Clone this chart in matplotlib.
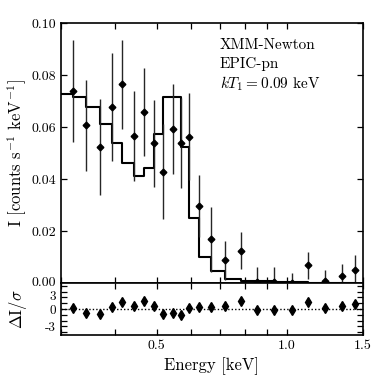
import matplotlib
matplotlib.use("Agg")
import matplotlib.pyplot as plt
import matplotlib.ticker as mticker
import matplotlib.transforms as mtransforms

plt.rcParams['font.family'] = 'serif'
plt.rcParams['font.serif'] = ['cmr10', 'DejaVu Serif']
plt.rcParams['mathtext.fontset'] = 'cm'
plt.rcParams['axes.unicode_minus'] = False
plt.rcParams['axes.formatter.use_mathtext'] = True

# ---- data ----
energy = [0.320, 0.343, 0.370, 0.393, 0.416, 0.442, 0.467, 0.493, 0.518, 0.544,
          0.569, 0.595, 0.627, 0.666, 0.720, 0.781, 0.854, 0.935, 1.025, 1.118,
          1.224, 1.342, 1.436]
intensity = [0.0738, 0.0606, 0.0523, 0.0677, 0.0764, 0.0567, 0.0657, 0.0537, 0.0428, 0.0591,
             0.0537, 0.0563, 0.0296, 0.0168, 0.0088, 0.0124, 0.0005, 0.0005, 0.0000, 0.0069,
             0.0009, 0.0027, 0.0050]
intensity_err = [0.0196, 0.0175, 0.0185, 0.0207, 0.0170, 0.0173, 0.0170, 0.0167, 0.0183, 0.0173,
                 0.0173, 0.0167, 0.0120, 0.0125, 0.0075, 0.0071, 0.0055, 0.0058, 0.0040, 0.0052,
                 0.0041, 0.0045, 0.0058]
model_energy = [0.297] + energy
model_intensity = [0.0726, 0.0726, 0.0717, 0.0676, 0.0612, 0.0540, 0.0460, 0.0413, 0.0444, 0.0573,
                   0.0717, 0.0717, 0.0524, 0.0249, 0.0101, 0.0046, 0.0014, 0.0008, 0.0006, 0.0003,
                   0.0002, 0.0001, 0.0001, 0.0001]
residual = [0.1, -0.66, -0.9, 0.3, 1.2, 0.6, 1.32, 0.48, -0.84, -0.72,
            -0.96, 0.24, 0.36, 0.36, 0.48, 1.44, -0.18, -0.18, -0.24, 1.2,
            0.24, 0.6, 0.78]

main_yticks = [0.00, 0.02, 0.04, 0.06, 0.08, 0.10]
main_yticklabels = ["0.00", "0.02", "0.04", "0.06", "0.08", "0.10"]
res_yticks = [-3, 0, 3]
res_yticklabels = ["-3", "0", "3"]
xticks = [0.5, 1.0, 1.5]
xticklabels = ["0.5", "1.0", "1.5"]
info_lines = ["XMM-Newton", "EPIC-pn", r"$kT_1 = 0.09$ keV"]

W = 382
fig = plt.figure(figsize=(3.82, 3.82), dpi=100)
ax = fig.add_axes([61 / W, (W - 283) / W, 302 / W, 260 / W])
axr = fig.add_axes([61 / W, (W - 335) / W, 302 / W, 52 / W], sharex=ax)

# main panel
ax.step(model_energy, model_intensity, where='pre', color='black', lw=1.5, zorder=3)
ax.errorbar(energy, intensity, yerr=intensity_err, fmt='D', color='black',
            ms=3.4, ecolor='0.15', elinewidth=1.0, capsize=0, zorder=4)

ax.set_xscale('log')
ax.set_xlim(0.3, 1.5)
ax.set_ylim(0.0, 0.10)
ax.set_yticks(main_yticks)
ax.set_yticklabels(main_yticklabels)
ax.set_ylabel(r"I [counts s$^{-1}$ keV$^{-1}$]", fontsize=12)

for i, t in enumerate(info_lines):
    ax.text(0.526, 0.900 - i * 0.075, t, transform=ax.transAxes,
            fontsize=11, ha='left', va='baseline')

# residual panel
axr.axhline(0, color='black', lw=1.0, ls=(0, (1, 1.5)), zorder=2)
axr.plot(energy, residual, 'd', color='black', ms=5, zorder=3)
axr.set_ylim(-4.5, 4.5)
axr.set_yticks(res_yticks)
axr.set_yticklabels(res_yticklabels)
axr.yaxis.set_minor_locator(mticker.MultipleLocator(1))
axr.set_ylabel(r"$\Delta \mathrm{I}/\sigma$", fontsize=12)
axr.set_xlabel("Energy [keV]", fontsize=12)

for a in (ax, axr):
    a.xaxis.set_major_locator(mticker.FixedLocator(xticks))
    a.xaxis.set_minor_locator(mticker.LogLocator(base=10, subs=range(2, 10)))
    a.xaxis.set_minor_formatter(mticker.NullFormatter())
    a.tick_params(which='both', direction='in', top=True, right=True,
                  length=4.5, width=0.9, labelsize=10)
    for s in a.spines.values():
        s.set_linewidth(1.2)
axr.tick_params(axis='y', labelsize=9.5)

axr.xaxis.set_major_formatter(mticker.FixedFormatter(xticklabels))
plt.setp(ax.get_xticklabels(), visible=False)

ax.yaxis.set_label_coords(-0.105, 0.5)
axr.yaxis.set_label_coords(-0.105, 0.5)

# nudge the tightly packed "3" and "0.00" labels apart slightly
fig.canvas.draw()
down = mtransforms.ScaledTranslation(0, -2.5 / 72, fig.dpi_scale_trans)
up = mtransforms.ScaledTranslation(0, 1.0 / 72, fig.dpi_scale_trans)
for lab in axr.get_yticklabels():
    if lab.get_text() == "3":
        lab.set_transform(lab.get_transform() + down)
for lab in ax.get_yticklabels():
    if lab.get_text() == "0.00":
        lab.set_transform(lab.get_transform() + up)

fig.savefig("out.png", dpi=100)
